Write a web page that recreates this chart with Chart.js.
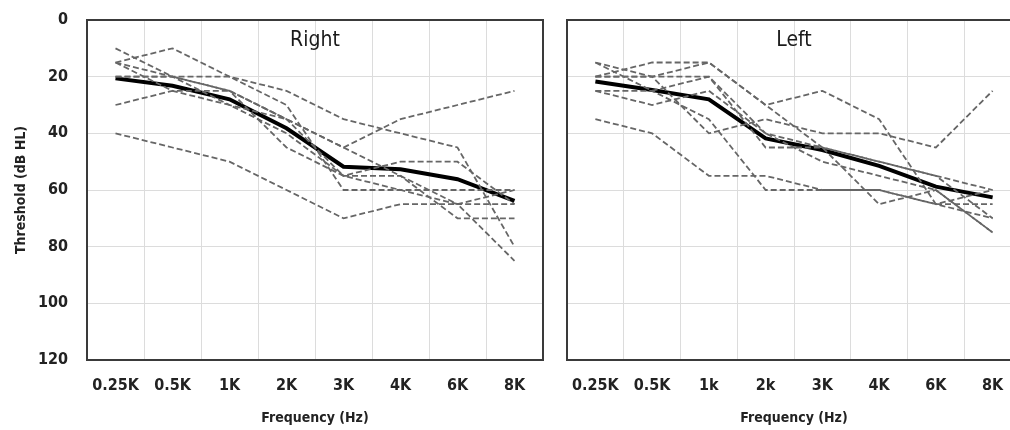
<!DOCTYPE html>
<html>
<head>
<meta charset="utf-8">
<script src="https://cdn.jsdelivr.net/npm/chart.js@4"></script>
<style>
  html, body { margin: 0; padding: 0; background: #fff; overflow: hidden; }
  body { width: 1010px; height: 430px; position: relative; }
  .panel { position: absolute; top: 0; height: 430px; }
  #rightWrap { left: 0; width: 550px; }
  #leftWrap { left: 555px; width: 475px; }
</style>
</head>
<body>
<div class="panel" id="rightWrap"><canvas id="rightChart" width="550" height="430"></canvas></div>
<div class="panel" id="leftWrap"><canvas id="leftChart" width="475" height="430"></canvas></div>
<script>
// Frequencies
const rightFreqs = ['0.25K', '0.5K', '1K', '2K', '3K', '4K', '6K', '8K'];
const leftFreqs = ['0.25K', '0.5K', '1k', '2k', '3K', '4K', '6K', '8K'];
const thresholdTicks = [0, 20, 40, 60, 80, 100, 120];

// Right ear, individual subjects (dB HL)
const right1 = [15, 10, 20, 25, 35, 40, 45, 80];
const right2 = [10, 20, 25, 45, 55, 60, 65, 85];
const right3 = [30, 25, 25, 35, 45, 35, 30, 25];
const right4 = [40, 45, 50, 60, 70, 65, 65, 60];
const right5 = [20, 20, 20, 30, 60, 60, 60, 60];
const right6 = [15, 25, 30, 40, 55, 50, 50, 65];
const right7 = [15, 20, 25, 35, 55, 55, 70, 70];
const right8 = [20, 20, 30, 35, 45, 55, 65, 65];
const rightMean = [20.6, 23.2, 28, 38.2, 51.8, 52.7, 56.2, 63.8];

// Left ear, individual subjects (dB HL)
const left1 = [20, 15, 15, 30, 25, 35, 65, 70];
const left2 = [15, 20, 40, 35, 40, 40, 45, 25];
const left3 = [35, 40, 55, 55, 60, 60, 65, 65];
const left4 = [25, 25, 35, 60, 60, 60, 65, 60];
const left5 = [20, 20, 20, 40, 45, 50, 55, 60];
const left6 = [25, 30, 25, 40, 50, 55, 60, 75];
const left7 = [20, 20, 15, 30, 45, 50, 55, 70];
const left8 = [15, 25, 20, 45, 45, 65, 60, 75];
const leftMean = [21.7, 24.7, 28, 41.8, 45.9, 51.5, 58.8, 62.6];

const FONT = "'Liberation Sans Narrow', 'DejaVu Sans Condensed', 'Open Sans', sans-serif";

// Frame around the plot area and the panel label inside it
const framePlugin = {
    id: 'frame',
    afterDraw(chart, args, opts) {
        const { ctx, chartArea: a } = chart;
        ctx.save();
        ctx.strokeStyle = '#3a3a3a';
        ctx.lineWidth = 2;
        ctx.strokeRect(a.left, a.top, a.right - a.left, a.bottom - a.top);
        ctx.fillStyle = '#1a1a1a';
        ctx.font = "21px " + FONT;
        ctx.textAlign = 'center';
        ctx.textBaseline = 'middle';
        ctx.fillText(opts.text, (a.left + a.right) / 2, 41);
        ctx.restore();
    }
};

function subjectSet(values) {
    return {
        data: values,
        borderColor: '#666',
        borderWidth: 1.8,
        borderDash: [6, 3],
        pointRadius: 0,
        tension: 0,
        fill: false
    };
}

function makeChart(id, labels, subjects, mean, panelText, showY, padRight) {
    const datasets = subjects.map(subjectSet);
    datasets.push({
        data: mean,
        borderColor: '#000',
        borderWidth: 4,
        pointRadius: 0,
        tension: 0,
        fill: false
    });

    return new Chart(document.getElementById(id), {
        type: 'line',
        data: { labels: labels, datasets: datasets },
        plugins: [framePlugin],
        options: {
            responsive: false,
            animation: false,
            layout: { padding: { top: 20, right: padRight, left: 0, bottom: 0 } },
            plugins: {
                legend: { display: false },
                tooltip: { enabled: false },
                frame: { text: panelText }
            },
            scales: {
                x: {
                    offset: true,
                    grid: { offset: true, color: '#dcdcdc', lineWidth: 1, drawTicks: false },
                    border: { display: false },
                    ticks: {
                        padding: 16,
                        color: '#222',
                        font: { family: FONT, size: 16, weight: 'bold' },
                        maxRotation: 0
                    },
                    title: {
                        display: true,
                        text: 'Frequency (Hz)',
                        color: '#222',
                        font: { family: FONT, size: 14, weight: 'bold' },
                        padding: { top: 0, bottom: 3 }
                    },
                    afterFit(scale) { scale.height = 70; }
                },
                y: {
                    reverse: true,
                    min: 0,
                    max: 120,
                    afterBuildTicks(scale) {
                        scale.ticks = thresholdTicks.map(v => ({ value: v }));
                    },
                    grid: { color: '#dcdcdc', lineWidth: 1, drawTicks: false },
                    border: { display: false },
                    ticks: {
                        display: showY,
                        padding: 19,
                        color: '#222',
                        font: { family: FONT, size: 16, weight: 'bold' }
                    },
                    title: {
                        display: showY,
                        text: 'Threshold (dB HL)',
                        color: '#222',
                        font: { family: FONT, size: 14, weight: 'bold' },
                        padding: { top: 13, bottom: 0 }
                    },
                    afterFit(scale) {
                        scale.width = showY ? 87 : 12;
                        // tick padding is horizontal here, keep it out of the top/bottom space
                        scale.paddingTop = 10;
                        scale.paddingBottom = 10;
                    }
                }
            }
        }
    });
}

makeChart('rightChart', rightFreqs,
    [right1, right2, right3, right4, right5, right6, right7, right8],
    rightMean, 'Right', true, 7);

makeChart('leftChart', leftFreqs,
    [left1, left2, left3, left4, left5, left6, left7, left8],
    leftMean, 'Left', false, 9);
</script>
</body>
</html>
